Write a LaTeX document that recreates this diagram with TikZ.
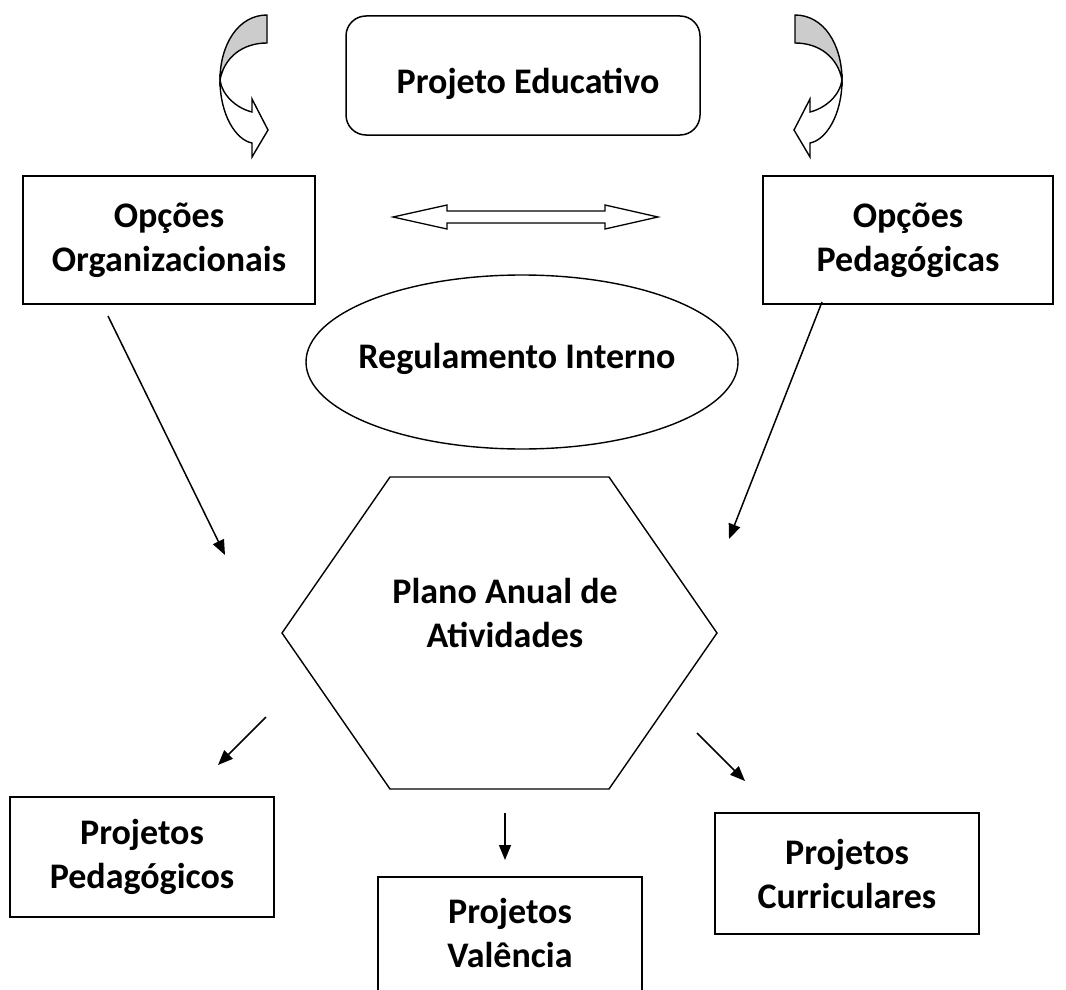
\documentclass[tikz,border=0pt]{standalone}
\usepackage{fontspec}
\setmainfont{Carlito}
\usetikzlibrary{arrows.meta,shapes.geometric}
\begin{document}
\begin{tikzpicture}[x=1pt,y=-1pt,
  txt/.style={font=\bfseries\fontsize{36}{44}\selectfont,align=center,inner sep=0pt},
  box/.style={draw,line width=1.5pt,inner sep=0pt,font=\bfseries\fontsize{36}{44}\selectfont,align=center},
  arr/.style={line width=1.5pt,-{Triangle[length=15pt,width=12pt]}},
  outline/.style={draw,line width=1.4pt,line join=miter},
  curvedarrow/.pic={
    \path[outline,fill=gray!40] (267,15) .. controls (238,15) and (220,45) .. (220,80)
       .. controls (224,58) and (242,43) .. (267,43) -- cycle;
    \path[outline,fill=white] (220,80) .. controls (220,115) and (236,140) .. (252,143)
       -- (252,157) -- (268,130) -- (252,99) -- (252,112)
       .. controls (236,108) and (222,95) .. (220,80) -- cycle;
  }]
\useasboundingbox (0,0) rectangle (1066,990);
\clip (0,0) rectangle (1066,990);

% top curved arrows
\pic at (0,0) {curvedarrow};
\pic[xscale=-1] at (1062,0) {curvedarrow};

% Projeto Educativo
\node[draw,line width=1.5pt,rounded corners=20pt,minimum width=354pt,minimum height=119pt,inner sep=0pt] (pe) at (523,75.5) {};
\node[txt,anchor=base] (pet) at (528,93) {Projeto Educativo};

% option boxes
\node[box,minimum width=292pt,minimum height=128pt] (oo) at (169,240) {Opções\\Organizacionais};
\node[box,minimum width=290pt,minimum height=128pt] (op) at (908,240) {Opções\\Pedagógicas};

% double arrow
\coordinate (dl) at (393,217);
\coordinate (dr) at (658,217);
\path[outline,line width=1.3pt,fill=white] (dl) -- (447,205) -- (447,211) -- (605,211) -- (605,205) -- (dr)
  -- (605,229) -- (605,223) -- (447,223) -- (447,229) -- cycle;

% Regulamento Interno
\node[draw,ellipse,line width=1.4pt,minimum width=432pt,minimum height=174pt,inner sep=0pt] (ri) at (522,362) {};
\node[txt,anchor=base] (rit) at (517,368) {Regulamento Interno};

% hexagon
\coordinate (h1) at (282,633);
\coordinate (h2) at (390,477);
\coordinate (h3) at (609,477);
\coordinate (h4) at (717,633);
\coordinate (h5) at (609,789);
\coordinate (h6) at (390,789);
\draw[line width=1.4pt] (h1) -- (h2) -- (h3) -- (h4) -- (h5) -- (h6) -- cycle;
\node[txt] (pa) at (505,613) {Plano Anual de\\Atividades};

% bottom boxes
\node[box,minimum width=264pt,minimum height=120pt] (pp) at (142,857) {Projetos\\Pedagógicos};
\node[box,minimum width=264pt,minimum height=121pt] (pc) at (847,873.5) {Projetos\\Curriculares};
\draw[line width=1.5pt] (378,1000) |- (642,877) -- (642,1000);
\node[txt] (pv) at (510,933) {Projetos\\Valência};

% arrows
\coordinate (a1s) at (108,316);  \coordinate (a1e) at (225,555);
\coordinate (a2s) at (822,302);  \coordinate (a2e) at (729,539);
\coordinate (a3s) at (266,717);  \coordinate (a3e) at (218,765);
\coordinate (a4s) at (505,813);  \coordinate (a4e) at (505,860);
\coordinate (a5s) at (697,733);  \coordinate (a5e) at (745,781);
\draw[arr] (a1s) -- (a1e);
\draw[arr] (a2s) -- (a2e);
\draw[arr] (a3s) -- (a3e);
\draw[arr] (a4s) -- (a4e);
\draw[arr] (a5s) -- (a5e);
\end{tikzpicture}
\end{document}
